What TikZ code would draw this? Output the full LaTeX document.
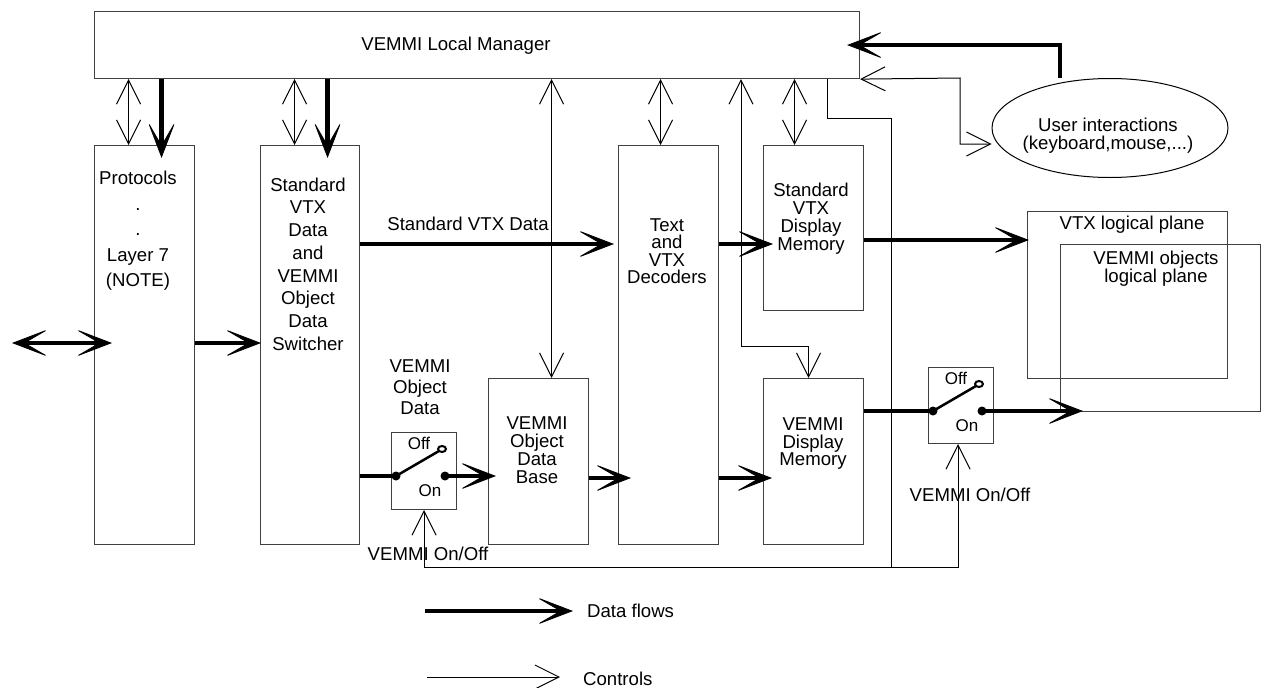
\documentclass[tikz,border=0pt]{standalone}
\usepackage{fontspec}
\setmainfont{Liberation Sans}
\usetikzlibrary{arrows.meta,calc,shapes.geometric}
\begin{document}
\begin{tikzpicture}[x=1pt,y=-1pt,
  box/.style={draw=black!75,line width=1.1pt,anchor=north west,inner sep=0pt},
  txt/.style={font=\fontsize{18.6}{22}\selectfont,align=center,inner sep=0pt},
  stxt/.style={font=\fontsize{17}{18}\selectfont,inner sep=0pt},
  dtip/.tip={Stealth[length=38pt,width=29pt,inset=25pt,line width=0.8pt]},
  ctip/.tip={Straight Barb[length=24pt,width=24pt]},
  data/.style={line width=4.5pt,-dtip},
  databoth/.style={line width=4.5pt,dtip-dtip},
  dline/.style={line width=4.5pt},
  ctrl/.style={line width=1pt,-ctip},
  cboth/.style={line width=1pt,ctip-ctip},
  cline/.style={line width=1pt}]
\useasboundingbox (0,0) rectangle (1267,688);

% boxes
\node[box,minimum width=765pt,minimum height=67pt] (mgr) at (94,11) {};
\node[txt] (mgrlabel) at (456,46) {VEMMI Local Manager};
\node[box,minimum width=100pt,minimum height=399pt] (proto) at (94,145) {};
\node[txt,font=\fontsize{18.6}{25.5}\selectfont] (protolabel) at (138,231) {Protocols\\.\\.\\Layer 7\\(NOTE)};
\node[box,minimum width=99pt,minimum height=399pt] (sw) at (260,145) {};
\node[txt,font=\fontsize{18.6}{22.7}\selectfont] (swlabel) at (308,264) {Standard\\VTX\\Data\\and\\VEMMI\\Object\\Data\\Switcher};
\node[box,minimum width=100pt,minimum height=399pt] (dec) at (618,145) {};
\node[txt,font=\fontsize{18.6}{17.5}\selectfont] (declabel) at (667,251) {Text\\and\\VTX\\Decoders};
\node[box,minimum width=100pt,minimum height=165pt] (smem) at (763,145) {};
\node[txt,font=\fontsize{18.6}{18}\selectfont] (smemlabel) at (811,219) {Standard\\VTX\\Display\\Memory};
\node[box,minimum width=100pt,minimum height=166pt] (vmem) at (763,378) {};
\node[txt,font=\fontsize{18.6}{17.5}\selectfont] (vmemlabel) at (813,444) {VEMMI\\Display\\Memory};
\node[box,minimum width=100pt,minimum height=166pt] (odb) at (488,378) {};
\node[txt,font=\fontsize{18.6}{18}\selectfont] (odblabel) at (537,450) {VEMMI\\Object\\Data\\Base};
\node[box,minimum width=65pt,minimum height=77pt] (sw1) at (391,432) {};
\node[box,minimum width=65pt,minimum height=76pt] (sw2) at (928,367) {};
\node[box,minimum width=200pt,minimum height=167pt] (vtxp) at (1027,211) {};
\node[txt] (vtxplabel) at (1132,225) {VTX logical plane};
\node[box,minimum width=200pt,minimum height=167pt] (vemp) at (1060,244) {};
\node[txt,font=\fontsize{18.6}{18}\selectfont] (vemplabel) at (1156,269) {VEMMI objects\\logical plane};
\node[ellipse,draw,line width=1pt,minimum width=236pt,minimum height=99pt,inner sep=0pt] (user) at (1110,128) {};
\node[txt,font=\fontsize{18.6}{18}\selectfont] (userlabel) at (1108,136) {User interactions\\(keyboard,mouse,...)};

% labels
\node[txt,font=\fontsize{18.6}{21}\selectfont] (odlabel) at (420,387) {VEMMI\\Object\\Data};
\node[txt] (onoff1) at (428,554) {VEMMI On/Off};
\node[txt] (onoff2) at (970,495) {VEMMI On/Off};

% switches
\foreach \s in {sw1,sw2}{
  \node[stxt] (\s-off) at ($(\s.north west)+(28,11)$) {Off};
  \node[stxt] (\s-on) at ($(\s.north west)+(39,59)$) {On};
  \coordinate (\s-in) at ($(\s.north west)+(5,44)$);
  \coordinate (\s-out) at ($(\s.north west)+(54,44)$);
  \coordinate (\s-loop) at ($(\s.north west)+(51,17)$);
  \draw[line width=2.5pt] (\s-in) -- ($(\s-loop)+(-3,2)$);
  \draw[line width=2pt] (\s-loop) ellipse[x radius=4, y radius=3];
  \fill (\s-in) circle[radius=4.5];
  \fill (\s-out) circle[radius=4.5];
}

% rows
\coordinate (rowA) at (0,244);
\coordinate (rowB) at (0,478);
\coordinate (rowC) at (0,240);
\coordinate (rowD) at (0,343);
\coordinate (ext) at (12,343);

% data flows
\draw[databoth] (ext) -- ($(proto.west |- rowD)+(18,0)$);
\draw[data] (proto.east |- rowD) -- ($(sw.west |- rowD)+(1,0)$);
\draw[data] (sw.east |- rowA) -- ($(dec.west |- rowA)+(-4,0)$);
\node[txt] (svdlabel) at (468,224) {Standard VTX Data};
\draw[dline] (sw.east |- sw1-in) -- (sw1-in);
\draw[data] (sw1-out) -- ($(odb.west |- sw1-out)+(8,0)$);
\draw[data] (odb.east |- rowB) -- ($(dec.west |- rowB)+(13,0)$);
\draw[data] (dec.east |- rowA) -- ($(smem.west |- rowA)+(10,0)$);
\draw[data] (dec.east |- rowB) -- ($(vmem.west |- rowB)+(9,0)$);
\draw[data] (smem.east |- rowC) -- ($(vtxp.west |- rowC)+(2,0)$);
\draw[dline] (vmem.east |- sw2-in) -- (sw2-in);
\draw[data] (sw2-out) -- ($(vemp.west |- sw2-out)+(23,0)$);
\draw[data] ([xshift=-50pt]user.north) |- ([xshift=-13pt]mgr.east);

% manager to blocks
\coordinate (cA) at ($(proto.north)+(-16,0)$);
\coordinate (pA) at ($(proto.north)+(17,13)$);
\coordinate (cB) at ($(sw.north)+(-15.5,0)$);
\coordinate (pB) at ($(sw.north)+(17.5,13)$);
\coordinate (cC) at ($(odb.north)+(13,0)$);
\coordinate (cD) at ($(dec.north)+(-8,0)$);
\coordinate (cE) at ($(smem.north)+(-19,0)$);
\draw[cboth] (mgr.south -| cA) -- (cA);
\draw[data] (mgr.south -| pA) -- (pA);
\draw[cboth] (mgr.south -| cB) -- (cB);
\draw[data] (mgr.south -| pB) -- (pB);
\draw[cboth] (mgr.south -| cC) -- (cC);
\draw[cboth] (mgr.south -| cD) -- (cD);
\draw[cboth] (mgr.south -| cE) -- (cE);
\draw[cboth] (mgr.south -| 741,0) -- (741,346) -| ([xshift=-5pt]vmem.north);
\draw[cline] (mgr.south -| 827,0) |- (891,118) -- (891,567);
\draw[ctrl] (891,567) -| (sw1.south);
\draw[ctrl] (891,567) -| ([xshift=-3pt]sw2.south);
\draw[cboth] (mgr.south east) -- (960,78) |- ([yshift=-16pt]user.west);

% legend
\coordinate (legA) at (425,611);
\node[txt,anchor=west] (legdata) at (587,611) {Data flows};
\draw[data] (legA) -- ($(legdata.west)+(-14,0)$);
\coordinate (legB) at (427,677);
\node[txt,anchor=west] (legctrl) at (583,679) {Controls};
\draw[ctrl] (legB) -- ($(legctrl.west)+(-23,-2)$);
\end{tikzpicture}
\end{document}
